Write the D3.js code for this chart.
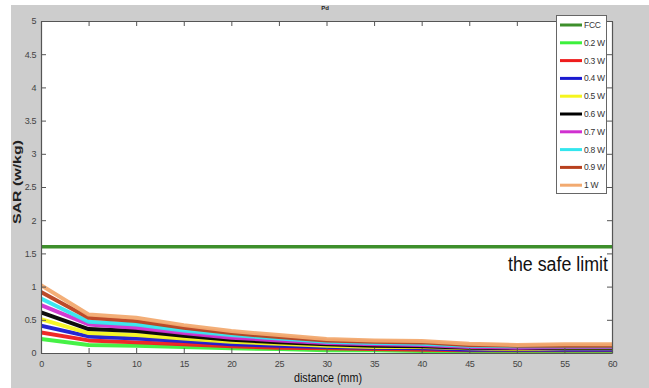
<!DOCTYPE html>
<html>
<head>
<meta charset="utf-8">
<script src="https://cdn.jsdelivr.net/npm/d3@7"></script>
<style>
  html, body { margin: 0; padding: 0; background: #fff; }
  svg { display: block; }
  .narrow { font-family: "Liberation Sans Narrow", "Liberation Sans", Arial, sans-serif; }
</style>
</head>
<body>
<svg id="chart" width="649" height="388"></svg>
<script>
// Distance from the antenna (mm)
const distances = [0, 5, 10, 15, 20, 25, 30, 35, 40, 45, 50, 55, 60];

// SAR (W/kg) per transmit power
const sar02 = [0.21, 0.12, 0.11, 0.09, 0.07, 0.06, 0.04, 0.04, 0.03, 0.03, 0.02, 0.03, 0.03];
const sar03 = [0.31, 0.19, 0.16, 0.13, 0.10, 0.08, 0.07, 0.06, 0.05, 0.04, 0.04, 0.04, 0.04];
const sar04 = [0.41, 0.25, 0.22, 0.18, 0.13, 0.11, 0.09, 0.08, 0.07, 0.05, 0.05, 0.05, 0.05];
const sar05 = [0.51, 0.30, 0.27, 0.22, 0.17, 0.14, 0.11, 0.09, 0.09, 0.07, 0.06, 0.07, 0.07];
const sar06 = [0.61, 0.36, 0.33, 0.26, 0.20, 0.16, 0.13, 0.11, 0.10, 0.08, 0.07, 0.08, 0.08];
const sar07 = [0.72, 0.43, 0.38, 0.30, 0.23, 0.19, 0.15, 0.13, 0.12, 0.09, 0.08, 0.09, 0.09];
const sar08 = [0.82, 0.47, 0.43, 0.34, 0.27, 0.22, 0.17, 0.15, 0.14, 0.11, 0.10, 0.10, 0.10];
const sar09 = [0.92, 0.53, 0.48, 0.38, 0.30, 0.24, 0.19, 0.17, 0.16, 0.12, 0.11, 0.11, 0.11];
const sar10 = [1.02, 0.58, 0.53, 0.42, 0.33, 0.27, 0.21, 0.19, 0.18, 0.14, 0.12, 0.13, 0.13];

// FCC exposure limit (W/kg)
const fccLimit = 1.6;

const seriesNames = ["FCC", "0.2 W", "0.3 W", "0.4 W", "0.5 W", "0.6 W", "0.7 W", "0.8 W", "0.9 W", "1 W"];
const seriesValues = [null, sar02, sar03, sar04, sar05, sar06, sar07, sar08, sar09, sar10];
const seriesColors = ["#3d8f2b", "#3cf03c", "#ee1c1c", "#1a1ad0", "#f5f51e", "#000000",
                      "#d030d0", "#33e6ee", "#b8401e", "#f2aa70"];

const xTicks = [0, 5, 10, 15, 20, 25, 30, 35, 40, 45, 50, 55, 60];
const yTicks = [0, 0.5, 1, 1.5, 2, 2.5, 3, 3.5, 4, 4.5, 5];

const svg = d3.select("#chart");
const W = 649, H = 388;

// Figure background
svg.append("rect").attr("x", 0).attr("y", 0).attr("width", W).attr("height", H).attr("fill", "#fff");
svg.append("rect").attr("x", 11).attr("y", 5).attr("width", W - 11).attr("height", H - 5).attr("fill", "#cdcdcd");

// Small title above the axes
svg.append("text").attr("x", 325).attr("y", 10).attr("text-anchor", "middle")
  .attr("class", "narrow").attr("font-size", 6).attr("font-weight", "bold").attr("fill", "#222")
  .text("Pd");

const plot = { left: 41, top: 21, right: 612, bottom: 353 };
const x = d3.scaleLinear().domain([0, 60]).range([plot.left, plot.right]);
const y = d3.scaleLinear().domain([0, 5]).range([plot.bottom, plot.top]);

// Axes area
svg.append("rect").attr("x", plot.left).attr("y", plot.top)
  .attr("width", plot.right - plot.left).attr("height", plot.bottom - plot.top).attr("fill", "#fff");

svg.append("clipPath").attr("id", "plotclip").append("rect")
  .attr("x", plot.left).attr("y", plot.top - 2)
  .attr("width", plot.right - plot.left).attr("height", plot.bottom - plot.top + 2);

const line = d3.line().x((d, i) => x(distances[i])).y(d => y(d));

const gLines = svg.append("g").attr("clip-path", "url(#plotclip)");

// Power series, low to high so the strongest sits on top
for (let k = 1; k < seriesValues.length; k++) {
  gLines.append("path").datum(seriesValues[k])
    .attr("d", line)
    .attr("fill", "none")
    .attr("stroke", seriesColors[k])
    .attr("stroke-width", 4)
    .attr("stroke-linejoin", "round")
    .attr("opacity", 0.95);
}

// FCC limit line
gLines.append("path").datum(distances.map(() => fccLimit))
  .attr("d", line)
  .attr("fill", "none")
  .attr("stroke", seriesColors[0])
  .attr("stroke-width", 3.5);

svg.append("text").attr("x", 508).attr("y", 271)
  .attr("class", "narrow").attr("font-size", 20).attr("fill", "#111")
  .attr("textLength", 100).attr("lengthAdjust", "spacingAndGlyphs")
  .text("the safe limit");

// Box with inward ticks on all four sides
const axisColor = "#555";
const tickLen = 5;
const gAx = svg.append("g");
const fmt = d => String(d);

gAx.append("g").attr("transform", `translate(0,${plot.bottom})`)
  .call(d3.axisBottom(x).tickValues(xTicks).tickSizeInner(-tickLen).tickSizeOuter(0).tickPadding(8).tickFormat(fmt));
gAx.append("g").attr("transform", `translate(0,${plot.top})`)
  .call(d3.axisTop(x).tickValues(xTicks).tickSizeInner(-tickLen).tickSizeOuter(0).tickFormat(""));
gAx.append("g").attr("transform", `translate(${plot.left},0)`)
  .call(d3.axisLeft(y).tickValues(yTicks).tickSizeInner(-tickLen).tickSizeOuter(0).tickPadding(5).tickFormat(fmt));
gAx.append("g").attr("transform", `translate(${plot.right},0)`)
  .call(d3.axisRight(y).tickValues(yTicks).tickSizeInner(-tickLen).tickSizeOuter(0).tickFormat(""));

gAx.selectAll(".domain").attr("stroke", axisColor).attr("stroke-width", 1.2);
gAx.selectAll(".tick line").attr("stroke", axisColor);
gAx.selectAll(".tick text").attr("class", "narrow").attr("font-size", 9)
  .attr("letter-spacing", -0.4).attr("fill", "#444");

// Axis labels
svg.append("text").attr("x", 328).attr("y", 382).attr("text-anchor", "middle")
  .attr("class", "narrow").attr("font-size", 13).attr("fill", "#111")
  .attr("textLength", 68).attr("lengthAdjust", "spacingAndGlyphs")
  .text("distance (mm)");
svg.append("text").attr("transform", "translate(21,182) rotate(-90)").attr("text-anchor", "middle")
  .attr("font-family", "Liberation Sans, Arial, sans-serif").attr("font-size", 11).attr("font-weight", "bold").attr("fill", "#222")
  .attr("textLength", 84).attr("lengthAdjust", "spacingAndGlyphs")
  .text("SAR (w/kg)");

// Legend
const leg = svg.append("g");
leg.append("rect").attr("x", 556.5).attr("y", 15.5).attr("width", 50).attr("height", 178)
  .attr("fill", "#fff").attr("stroke", "#666").attr("stroke-width", 1);
seriesNames.forEach((name, i) => {
  const yy = 25 + i * 17.8;
  leg.append("line").attr("x1", 560).attr("x2", 582).attr("y1", yy).attr("y2", yy)
    .attr("stroke", seriesColors[i]).attr("stroke-width", 3);
  leg.append("text").attr("x", 584).attr("y", yy + 3)
    .attr("class", "narrow").attr("font-size", 8.5).attr("letter-spacing", -0.3).attr("fill", "#333")
    .text(name);
});
</script>
</body>
</html>
